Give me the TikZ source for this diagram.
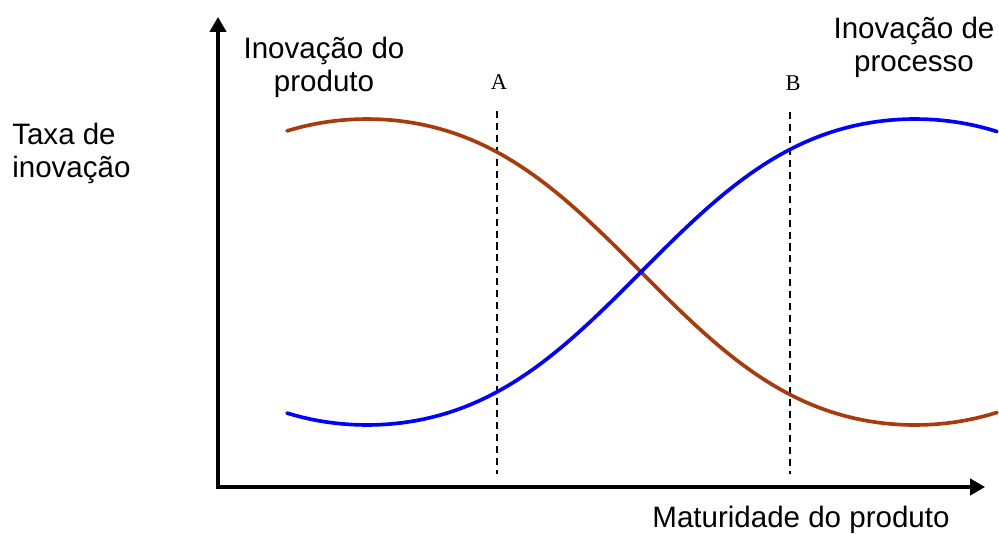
\documentclass[tikz,border=0pt]{standalone}
\usepackage{fontspec}
\setmainfont{Liberation Sans}
\newfontfamily\seriffont{Liberation Serif}
\usepackage{tikz}
\usetikzlibrary{arrows.meta}
\definecolor{prodbrown}{RGB}{168,58,12}
\definecolor{procblue}{RGB}{0,0,255}
\tikzstyle{axis} = [line width=2.3pt,-{Triangle[length=10.6pt,width=11.6pt]}]
\tikzstyle{curve} = [line width=2.6pt,line cap=round]
\tikzstyle{guide} = [line width=1.1pt,dash pattern=on 5pt off 3.5pt]
\tikzstyle{lbl} = [inner sep=0pt,align=center,font=\fontsize{21}{23.5}\selectfont]
\tikzstyle{letter} = [inner sep=0pt,font=\seriffont\fontsize{16}{18}\selectfont]

\begin{document}
\begin{tikzpicture}[x=0.025cm,y=-0.025cm,
    declare function={wave(\t)=(sin(0.32847*(\t-641))+0.035*sin(0.98540*(\t-641)))/0.965;}]
        \useasboundingbox (0,0) rectangle (999,533);
        % axes
        \coordinate (origin) at (218,487);
        \coordinate (ytip) at (218,17);
        \coordinate (xtip) at (985,487);
        \draw[axis] ([yshift=-1.15pt]origin) -- (ytip);
        \draw[axis] ([xshift=-1.15pt]origin) -- (xtip);
        % guides A and B
        \node[letter, anchor=north] (labA) at (499,74) {A};
        \node[letter, anchor=north] (labB) at (793,75) {B};
        \coordinate (Abot) at (497,474);
        \coordinate (Bbot) at (790,474);
        \draw[guide] (497,111) -- (Abot);
        \draw[guide] (790,112) -- (Bbot);
        % curves
        \draw[curve, prodbrown] plot[domain=287:997, samples=90] (\x,{272+153*wave(\x)});
        \draw[curve, procblue] plot[domain=287:997, samples=90] (\x,{272-153*wave(\x)});
        % labels
        \node[lbl, anchor=north west, align=left] (rate) at (12,123) {Taxa de\\inovação};
        \node[lbl, anchor=north] (prod) at (324,37) {Inovação do\\produto};
        \node[lbl, anchor=north] (proc) at (914,17) {Inovação de\\processo};
        \node[lbl, anchor=north] (mat) at (801,506) {Maturidade do produto};
      \end{tikzpicture}
\end{document}
